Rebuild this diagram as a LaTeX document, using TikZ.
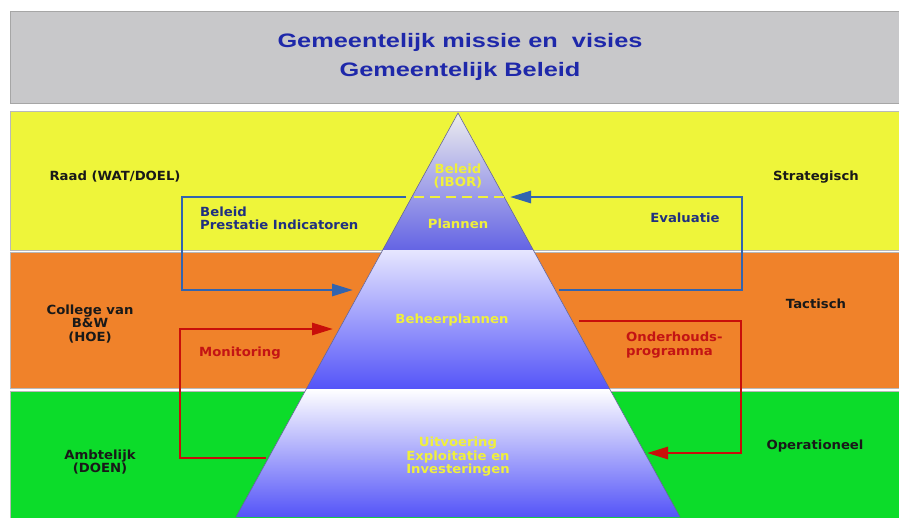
\documentclass[tikz,border=0pt]{standalone}
\usepackage{fontspec}
\setmainfont{DejaVu Sans}[FakeStretch=1.05]
\newfontfamily\titlefont{Liberation Sans}[FakeStretch=1.3]
\usetikzlibrary{arrows.meta}
\definecolor{bandgray}{RGB}{200,200,202}
\definecolor{bandyellow}{RGB}{238,245,58}
\definecolor{bandorange}{RGB}{240,130,42}
\definecolor{bandgreen}{RGB}{12,220,42}
\definecolor{titleblue}{RGB}{30,40,170}
\definecolor{textblue}{RGB}{32,48,128}
\definecolor{lineblue}{RGB}{50,100,175}
\definecolor{linered}{RGB}{200,15,10}
\definecolor{textred}{RGB}{195,20,20}
\definecolor{pyryellow}{RGB}{240,240,60}
\definecolor{pyrtop}{RGB}{236,236,238}
\definecolor{pyrmid}{RGB}{100,100,228}
\definecolor{pyrlight}{RGB}{230,230,255}
\definecolor{pyrblue}{RGB}{84,84,248}

\tikzset{
  band/.style={draw=gray!55, line width=0.8pt},
  lvltext/.style={font={\fontsize{12.6}{13.5}\selectfont\bfseries}, text=black!90, align=center, inner sep=0pt},
  pyrtext/.style={lvltext, text=pyryellow},
  bluetext/.style={lvltext, text=textblue},
  redtext/.style={lvltext, text=textred},
  bluearrow/.style={draw=lineblue, line width=2.8pt, -{Triangle[length=21pt,width=12pt]}},
  redarrow/.style={draw=linered, line width=2.8pt, -{Triangle[length=21pt,width=12pt]}},
}

\begin{document}
\begin{tikzpicture}[x=1pt, y=-1pt]
    \useasboundingbox (0,0) rectangle (899,517);
    \clip (0,0) rectangle (899,517);
    \fill[white] (0,0) rectangle (899,517);

    % Bands
    \fill[bandgray, draw=gray!70] (10,11) rectangle (905,103);
    \fill[bandyellow, band] (10,111) rectangle (905,250);
    \fill[bandorange, band] (10,252) rectangle (905,388);
    \fill[bandgreen, band] (10,391) rectangle (905,525);

    % Pyramid
    \coordinate (apex) at (458,113);
    \coordinate (t1l) at (382.7,250);
    \coordinate (t1r) at (533.3,250);
    \coordinate (t2l) at (306.3,389);
    \coordinate (t2r) at (609.7,389);
    \coordinate (t3l) at (236,517);
    \coordinate (t3r) at (680,517);
    \shade[top color=pyrtop, bottom color=pyrmid] (apex) -- (t1r) -- (t1l) -- cycle;
    \shade[top color=pyrlight, bottom color=pyrblue] (t1l) -- (t1r) -- (t2r) -- (t2l) -- cycle;
    \shade[top color=white, bottom color=pyrblue] (t2l) -- (t2r) -- (t3r) -- (t3l) -- cycle;
    \draw[gray!80!blue, line width=0.6pt] (t3l) -- (apex) -- (t3r);
    \coordinate (dashl) at (414,197);
    \coordinate (dashr) at (504,197);
    \draw[pyryellow, line width=2.5pt, dash pattern=on 10pt off 6pt] (dashl) -- (dashr);

    % Arrows
    \coordinate (bls) at (406,197);
    \coordinate (blc) at (182,197);
    \coordinate (ble) at (353,290);
    \coordinate (brs) at (559,290);
    \coordinate (brc) at (742,290);
    \coordinate (bre) at (510,197);
    \coordinate (rls) at (266,458);
    \coordinate (rlc) at (180,458);
    \coordinate (rle) at (333,329);
    \coordinate (rrs) at (579,321);
    \coordinate (rrc) at (741,321);
    \coordinate (rre) at (647,453);
    \draw[bluearrow] (bls) -- (blc) |- (ble);
    \draw[bluearrow] (brs) -- (brc) |- (bre);
    \draw[redarrow] (rls) -- (rlc) |- (rle);
    \draw[redarrow] (rrs) -- (rrc) |- (rre);

    % Title
    \node[font={\titlefont\bfseries\fontsize{19.5}{29}\selectfont}, text=titleblue, align=center, inner sep=0pt] (title) at (460,57) {Gemeentelijk missie en\ \ visies\\Gemeentelijk Beleid};

    % Level labels
    \node[lvltext] (raad) at (115,177) {Raad (WAT/DOEL)};
    \node[lvltext] (college) at (90,324) {College van\\B\&W\\(HOE)};
    \node[lvltext] (ambt) at (100,462) {Ambtelijk\\(DOEN)};
    \node[lvltext] (strat) at (816,177) {Strategisch};
    \node[lvltext] (tact) at (816,304) {Tactisch};
    \node[lvltext] (oper) at (815,446) {Operationeel};

    % Pyramid labels
    \node[pyrtext] (ibor) at (458,176) {Beleid\\(IBOR)};
    \node[pyrtext] (plannen) at (458,224) {Plannen};
    \node[pyrtext] (beheer) at (452,320) {Beheerplannen};
    \node[pyrtext] (uitv) at (458,457) {Uitvoering\\Exploitatie en\\Investeringen};

    % Arrow labels
    \node[bluetext, anchor=west, align=left] (beleidpi) at (200,218.5) {Beleid\\Prestatie Indicatoren};
    \node[bluetext] (eval) at (685,218) {Evaluatie};
    \node[redtext] (monit) at (240,353) {Monitoring};
    \node[redtext, anchor=west, align=left] (onderh) at (626,345) {Onderhouds-\\programma};
\end{tikzpicture}
\end{document}
